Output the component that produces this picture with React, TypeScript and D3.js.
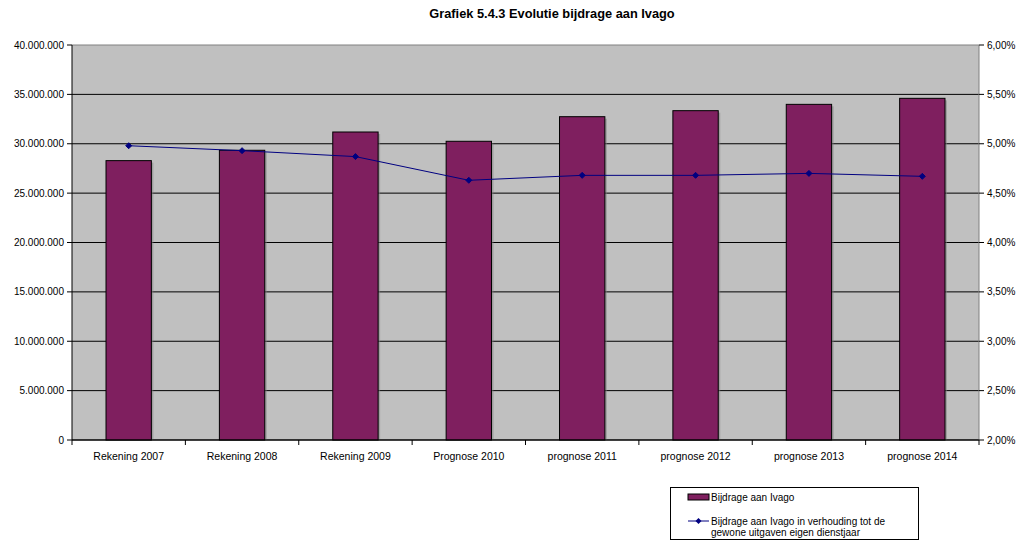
import React from "react";
import * as d3 from "d3";

const categories = ["Rekening 2007", "Rekening 2008", "Rekening 2009", "Prognose 2010", "prognose 2011", "prognose 2012", "prognose 2013", "prognose 2014"];
const bijdrage = [28290000, 29340000, 31190000, 30250000, 32740000, 33350000, 33990000, 34600000];
const verhouding = [4.98, 4.93, 4.87, 4.63, 4.68, 4.68, 4.70, 4.67];
const leftTicks = [0, 5000000, 10000000, 15000000, 20000000, 25000000, 30000000, 35000000, 40000000];
const rightTicks = [2.0, 2.5, 3.0, 3.5, 4.0, 4.5, 5.0, 5.5, 6.0];

const W = 1019, H = 541;
const L = 72, R = 979, T = 45, B = 440;
const font = "'Liberation Sans', Arial, sans-serif";

export default function App() {
  const x = d3.scaleBand<string>().domain(categories).range([L, R]).paddingInner(0).paddingOuter(0);
  const yL = d3.scaleLinear().domain([0, 40000000]).range([B, T]);
  const yR = d3.scaleLinear().domain([2, 6]).range([B, T]);
  const fmtL = (v: number) => v === 0 ? "0" : d3.format(",")(v).replace(/,/g, ".");
  const fmtR = (v: number) => v.toFixed(2).replace(".", ",") + "%";
  const bw = x.bandwidth() * 0.4;
  const line = d3.line<number>().x((_, i) => x(categories[i])! + x.bandwidth() / 2).y(d => yR(d));
  const diamond = (cx: number, cy: number, r = 3) => `M${cx},${cy - r}L${cx + r},${cy}L${cx},${cy + r}L${cx - r},${cy}Z`;

  return (
    <svg width={W} height={H} style={{ position: "absolute", left: 0, top: 0, background: "#fff" }} fontFamily={font}>
      <text x={552} y={18} textAnchor="middle" fontSize={12.8} fontWeight="bold">Grafiek 5.4.3 Evolutie bijdrage aan Ivago</text>
      <rect x={L} y={T} width={R - L} height={B - T} fill="#C0C0C0" />
      {leftTicks.map(t => (
        <line key={"g" + t} x1={L} x2={R} y1={yL(t)} y2={yL(t)} stroke={t === 40000000 ? "#808080" : "#000"} strokeWidth={1} />
      ))}
      <line x1={R} x2={R} y1={T} y2={B} stroke="#808080" />
      {bijdrage.map((v, i) => {
        const cx = x(categories[i])! + x.bandwidth() / 2;
        return (
          <g key={"b" + i}>
            <rect x={cx - bw / 2 + 2} y={yL(v) + 2} width={bw} height={B - yL(v) - 2} fill="#808080" opacity={0.5} />
            <rect x={cx - bw / 2} y={yL(v)} width={bw} height={B - yL(v)} fill="#7F1F5F" stroke="#000" strokeWidth={1} />
          </g>
        );
      })}
      <path d={line(verhouding)!} fill="none" stroke="#000080" strokeWidth={1} />
      {verhouding.map((v, i) => (
        <path key={"m" + i} d={diamond(x(categories[i])! + x.bandwidth() / 2, yR(v))} fill="#000080" stroke="#000080" />
      ))}
      {/* left axis */}
      <line x1={L} x2={L} y1={T} y2={B} stroke="#000" />
      {leftTicks.map(t => (
        <g key={"l" + t}>
          <line x1={L - 5} x2={L} y1={yL(t)} y2={yL(t)} stroke="#000" />
          <text x={L - 8} y={yL(t) + 3.5} textAnchor="end" fontSize={10}>{fmtL(t)}</text>
        </g>
      ))}
      {/* right axis */}
      {rightTicks.map(t => (
        <g key={"r" + t}>
          <line x1={R} x2={R + 5} y1={yR(t)} y2={yR(t)} stroke="#000" />
          <text x={R + 8} y={yR(t) + 3.5} textAnchor="start" fontSize={10}>{fmtR(t)}</text>
        </g>
      ))}
      {/* bottom axis */}
      <line x1={L} x2={R} y1={B} y2={B} stroke="#000" />
      {categories.map((c, i) => (
        <g key={"c" + i}>
          <line x1={x(c)!} x2={x(c)!} y1={B} y2={B + 5} stroke="#000" />
          <text x={x(c)! + x.bandwidth() / 2} y={460} textAnchor="middle" fontSize={10.5}>{c}</text>
        </g>
      ))}
      <line x1={R} x2={R} y1={B} y2={B + 5} stroke="#000" />
      {/* legend */}
      <rect x={670.5} y={487.5} width={248} height={52} fill="#fff" stroke="#000" />
      <rect x={688} y={494} width={21} height={6} fill="#7F1F5F" stroke="#000" />
      <text x={711} y={501} fontSize={10}>Bijdrage aan Ivago</text>
      <line x1={688} x2={709} y1={521} y2={521} stroke="#000080" />
      <path d={diamond(698.5, 521)} fill="#000080" />
      <text x={711} y={524.5} fontSize={10}>Bijdrage aan Ivago in verhouding tot de</text>
      <text x={711} y={535.5} fontSize={10}>gewone uitgaven eigen dienstjaar</text>
    </svg>
  );
}
